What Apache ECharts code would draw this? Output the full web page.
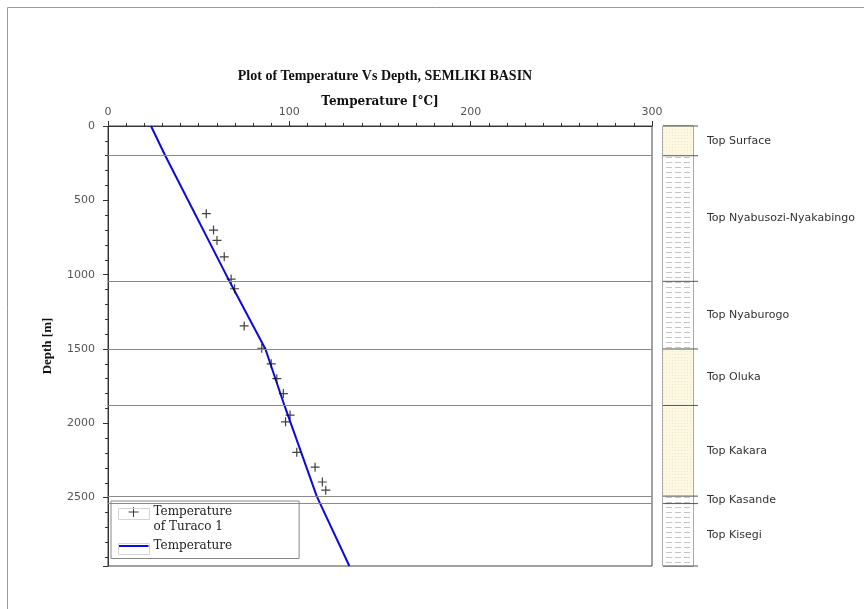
<!DOCTYPE html>
<html><head><meta charset="utf-8">
<script src="https://cdn.jsdelivr.net/npm/echarts@6/dist/echarts.min.js"></script>
<style>html,body{margin:0;padding:0;background:#fff}#chart{width:864px;height:609px}</style>
</head><body><div id="chart"></div>
<script>
// ---- data ----
const titleText = 'Plot of Temperature Vs Depth, SEMLIKI BASIN';
const xAxisName = 'Temperature [°C]';
const yAxisName = 'Depth [m]';
const xTicks = [0, 100, 200, 300];
const yTicks = [0, 500, 1000, 1500, 2000, 2500];
const depthMax = 2960;
const turacoName = 'Temperature\nof Turaco 1';
const turacoDepth = [590, 700, 770, 880, 1030, 1095, 1345, 1495, 1600, 1700, 1800, 1945, 1990, 2195, 2295, 2395, 2450];
const turacoTemp  = [54.2, 58.2, 60.1, 64.1, 67.9, 69.8, 75.1, 84.8, 90.0, 93.1, 96.7, 100.4, 97.9, 104.1, 114.2, 118.2, 120.1];
const modelName = 'Temperature';
const modelDepth = [0, 200, 1045, 1500, 1880, 2490, 2540, 2960];
const modelTemp  = [23.7, 31.6, 67.0, 86.8, 97.3, 115.1, 117.0, 133.1];
const formationNames = ['Top Surface', 'Top Nyabusozi-Nyakabingo', 'Top Nyaburogo', 'Top Oluka', 'Top Kakara', 'Top Kasande', 'Top Kisegi'];
const formationTops  = [0, 200, 1045, 1500, 1880, 2490, 2540];
const formationLith  = ['sand', 'shale', 'shale', 'sand', 'sand', 'shale', 'shale'];

// ---- patterns ----
function makeShale() {
  const c = document.createElement('canvas'); c.width = 9; c.height = 5;
  const g = c.getContext('2d');
  g.fillStyle = '#ffffff'; g.fillRect(0, 0, 9, 5);
  g.strokeStyle = '#c4c4c4'; g.lineWidth = 1;
  g.beginPath(); g.moveTo(0, 2.5); g.lineTo(6, 2.5); g.stroke();
  return c;
}
function makeSand() {
  const c = document.createElement('canvas'); c.width = 3; c.height = 3;
  const g = c.getContext('2d');
  g.fillStyle = '#fcf8e2'; g.fillRect(0, 0, 3, 3);
  g.fillStyle = '#efe7c4'; g.fillRect(0, 0, 1, 1);
  return c;
}
const patterns = {
  shale: { image: makeShale(), repeat: 'repeat' },
  sand: { image: makeSand(), repeat: 'repeat' }
};

const scatterData = turacoTemp.map((t, i) => [t, turacoDepth[i]]);
const lineData = modelTemp.map((t, i) => [t, modelDepth[i]]);
const formationData = formationTops.map((t, i) => [t, i < formationTops.length - 1 ? formationTops[i + 1] : depthMax, i]);

const crossPath = 'path://M0,5L10,5M5,0L5,10';
// legend icons: 30x25 frame (moveTo points fix the frame), mark placed on first text line
const crossLegendIcon = 'path://M0,0M30,25M10,5L20,5M15,0L15,10';
const lineLegendIcon = 'path://M0,0M30,25M0,11.5L30,11.5L30,13.5L0,13.5Z';
const serif = 'DejaVu Serif';
const sans = 'DejaVu Sans';
const plain = v => String(v);

const chart = echarts.init(document.getElementById('chart'));
chart.setOption({
  animation: false,
  backgroundColor: '#fff',
  title: {
    text: titleText, left: 380, top: 64, textAlign: 'center',
    textStyle: { fontFamily: 'Liberation Serif', fontWeight: 'bold', fontSize: 14, color: '#111' }
  },
  graphic: [
    { type: 'rect', shape: { x: 7.5, y: 7.5, width: 870, height: 620 }, style: { fill: 'none', stroke: '#9a9a9a', lineWidth: 1 }, silent: true, z: -1 },
    { type: 'rect', left: 116, top: 506, shape: { width: 31, height: 11 }, style: { fill: 'none', stroke: '#d4d4d4', lineWidth: 1 }, silent: true, z: 20 },
    { type: 'rect', left: 116, top: 541, shape: { width: 31, height: 11 }, style: { fill: 'none', stroke: '#d4d4d4', lineWidth: 1 }, silent: true, z: 20 }
  ],
  legend: {
    orient: 'vertical', left: 111, top: 501,
    data: [
      { name: turacoName, icon: crossLegendIcon, itemStyle: { color: 'none', borderColor: '#111', borderWidth: 1 } },
      { name: modelName, icon: lineLegendIcon, itemStyle: { color: '#0a0ae0' } }
    ],
    symbolKeepAspect: false,
    itemWidth: 30, itemHeight: 25, itemGap: -1, itemTextGap: 4,
    backgroundColor: '#fff', borderColor: '#888', borderWidth: 1,
    padding: [3.5, 67, 0, 5],
    textStyle: { fontFamily: serif, fontSize: 12, color: '#222', lineHeight: 15 }
  },
  grid: [
    { left: 108, right: 212, top: 126, bottom: 43, show: true, borderColor: '#444', borderWidth: 1 },
    { left: 663, width: 30, top: 126, bottom: 43, show: true, borderColor: '#555', borderWidth: 1 }
  ],
  xAxis: [
    {
      gridIndex: 0, type: 'value', position: 'top', min: 0, max: 300, interval: 100,
      name: xAxisName, nameLocation: 'middle', nameGap: 18, nameMoveOverlap: false,
      nameTextStyle: { fontFamily: serif, fontWeight: 'bold', fontSize: 12, color: '#111' },
      axisLine: { show: true, lineStyle: { color: '#333' } },
      axisTick: { show: true, length: 5, lineStyle: { color: '#333' } },
      minorTick: { show: true, splitNumber: 10, length: 3, lineStyle: { color: '#333' } },
      axisLabel: { fontFamily: sans, fontSize: 11, color: '#555', margin: 8, formatter: plain, customValues: xTicks },
      splitLine: { show: false }
    },
    { gridIndex: 1, type: 'value', min: 0, max: 1, show: false }
  ],
  yAxis: [
    {
      gridIndex: 0, type: 'value', inverse: true, min: 0, max: depthMax, interval: 500,
      name: yAxisName, nameLocation: 'middle', nameGap: 54, nameRotate: 90, nameMoveOverlap: false,
      nameTextStyle: { fontFamily: 'Liberation Serif', fontWeight: 'bold', fontSize: 13, color: '#111' },
      axisLine: { show: true, lineStyle: { color: '#333' } },
      axisTick: { show: true, length: 5, lineStyle: { color: '#333' } },
      minorTick: { show: true, splitNumber: 5, length: 3, lineStyle: { color: '#333' } },
      axisLabel: { fontFamily: sans, fontSize: 11, color: '#555', margin: 13, formatter: plain, customValues: yTicks },
      splitLine: { show: false }
    },
    { gridIndex: 1, type: 'value', inverse: true, min: 0, max: depthMax, show: false }
  ],
  series: [
    {
      name: modelName, type: 'line', xAxisIndex: 0, yAxisIndex: 0, data: lineData,
      showSymbol: false, symbol: 'none', lineStyle: { color: '#0a0ae0', width: 2 }, itemStyle: { color: '#0a0ae0' },
      z: 3,
      markLine: {
        silent: true, symbol: ['none', 'none'], label: { show: false },
        lineStyle: { color: '#8a8a8a', type: 'solid', width: 1 },
        data: formationTops.slice(1).map(v => ({ yAxis: v }))
      }
    },
    {
      name: turacoName, type: 'scatter', xAxisIndex: 0, yAxisIndex: 0, data: scatterData,
      symbol: crossPath, symbolSize: 9,
      itemStyle: { color: 'none', borderColor: '#111', borderWidth: 1.2 }, z: 4
    },
    {
      type: 'custom', xAxisIndex: 1, yAxisIndex: 1, data: formationData, clip: false,
      renderItem: function (params, api) {
        const top = api.value(0), base = api.value(1), idx = api.value(2);
        const p1 = api.coord([0, top]);
        const p2 = api.coord([1, base]);
        const children = [
          { type: 'rect', shape: { x: p1[0], y: p1[1], width: p2[0] - p1[0], height: p2[1] - p1[1] },
            style: { fill: patterns[formationLith[idx]] } },
          { type: 'line', shape: { x1: p1[0], y1: p1[1], x2: p2[0] + 5, y2: p1[1] },
            style: { stroke: '#555', lineWidth: 1 } },
          { type: 'text', style: { text: formationNames[idx], x: p2[0] + 14, y: (p1[1] + p2[1]) / 2,
            verticalAlign: 'middle', align: 'left', fontFamily: sans, fontSize: 11, fill: '#333' } }
        ];
        if (idx === formationTops.length - 1) {
          children.push({ type: 'line', shape: { x1: p1[0], y1: p2[1], x2: p2[0] + 5, y2: p2[1] },
            style: { stroke: '#555', lineWidth: 1 } });
        }
        return { type: 'group', children: children };
      }
    }
  ]
});
</script>
</body></html>
